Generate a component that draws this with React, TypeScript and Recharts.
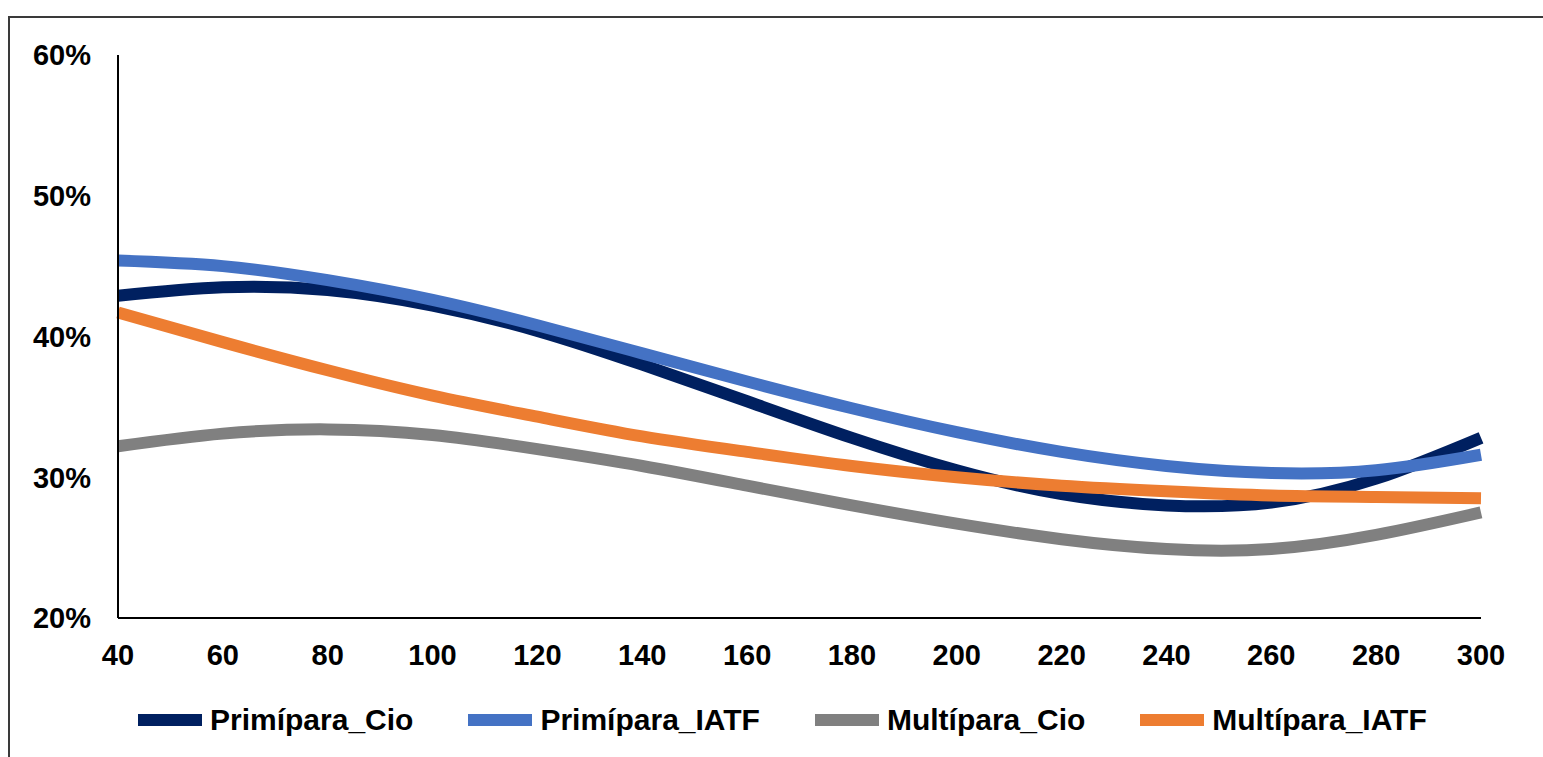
import React from "react";
import { LineChart, Line, XAxis, YAxis, Legend } from "recharts";

// days postpartum (x) and conception rate in % (y)
const days = [40, 60, 80, 100, 120, 140, 160, 180, 200, 220, 240, 260, 280, 300];
const primiparaCio = [42.9, 43.5, 43.3, 42.2, 40.4, 38.0, 35.4, 32.8, 30.5, 28.8, 28.0, 28.2, 29.9, 32.8];
const primiparaIatf = [45.4, 45.0, 44.0, 42.6, 40.8, 38.8, 36.8, 34.9, 33.2, 31.8, 30.8, 30.3, 30.5, 31.6];
const multiparaCio = [32.2, 33.1, 33.4, 33.0, 32.0, 30.8, 29.4, 28.0, 26.7, 25.6, 24.9, 24.9, 25.9, 27.5];
const multiparaIatf = [41.7, 39.6, 37.6, 35.8, 34.3, 32.9, 31.8, 30.8, 30.0, 29.4, 29.0, 28.7, 28.6, 28.5];

const xTicks = [40, 60, 80, 100, 120, 140, 160, 180, 200, 220, 240, 260, 280, 300];
const yTicks = [20, 30, 40, 50, 60];

const series = [
  { key: "Primípara_Cio", values: primiparaCio, color: "#002060" },
  { key: "Primípara_IATF", values: primiparaIatf, color: "#4472C4" },
  { key: "Multípara_Cio", values: multiparaCio, color: "#808080" },
  { key: "Multípara_IATF", values: multiparaIatf, color: "#ED7D31" },
];

const data = days.map((d, i) => {
  const row: Record<string, number> = { day: d };
  series.forEach((s) => {
    row[s.key] = s.values[i];
  });
  return row;
});

const font = '"Liberation Sans", Arial, sans-serif';
const tickStyle = { fill: "#000", fontSize: 29, fontWeight: 700, fontFamily: font };

const LegendContent = () => (
  <div style={{ display: "flex", alignItems: "center", paddingLeft: 138, height: 40 }}>
    {series.map((s) => (
      <div key={s.key} style={{ display: "flex", alignItems: "center", marginRight: 55 }}>
        <div style={{ width: 64, height: 12, background: s.color, marginRight: 8 }} />
        <span style={{ fontFamily: font, fontWeight: 700, fontSize: 30, color: "#000" }}>{s.key}</span>
      </div>
    ))}
  </div>
);

const App: React.FC = () => {
  return (
    <div>
      <div
        style={{
          position: "absolute",
          left: 8,
          top: 16,
          width: 1535,
          height: 741,
          borderTop: "2px solid #3a3a3a",
          borderLeft: "2px solid #3a3a3a",
          boxSizing: "border-box",
        }}
      />
      <div style={{ position: "absolute", left: 0, top: 0 }}>
        <LineChart
          width={1543}
          height={757}
          data={data}
          margin={{ top: 55, right: 62, left: 38, bottom: 17 }}
        >
          <XAxis
            dataKey="day"
            type="number"
            domain={[40, 300]}
            ticks={xTicks}
            height={82}
            tickLine={false}
            tickMargin={20}
            axisLine={{ stroke: "#000", strokeWidth: 2 }}
            tick={tickStyle}
          />
          <YAxis
            type="number"
            domain={[20, 60]}
            ticks={yTicks}
            width={80}
            tickLine={false}
            tickMargin={21}
            tickFormatter={(v: number) => `${v}%`}
            axisLine={{ stroke: "#000", strokeWidth: 2 }}
            tick={tickStyle}
          />
          <Legend
            verticalAlign="bottom"
            wrapperStyle={{ left: 0, width: 1543 }}
            content={<LegendContent />}
          />
          {series.map((s) => (
            <Line
              key={s.key}
              type="natural"
              dataKey={s.key}
              stroke={s.color}
              strokeWidth={12}
              dot={false}
              activeDot={false}
              isAnimationActive={false}
            />
          ))}
        </LineChart>
      </div>
    </div>
  );
};

export default App;
